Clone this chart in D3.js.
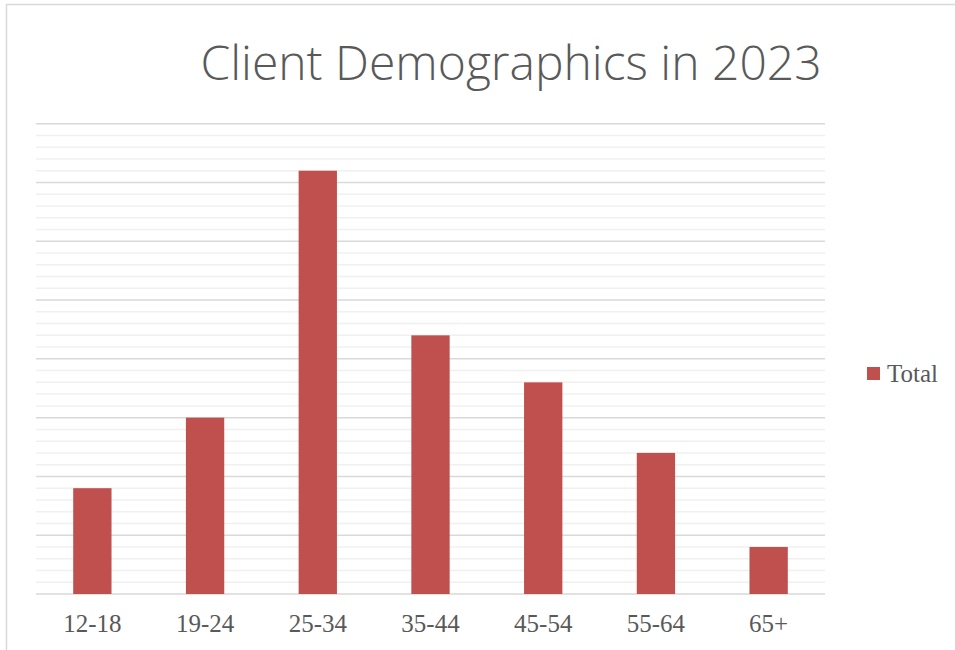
<!DOCTYPE html>
<html>
<head>
<meta charset="utf-8">
<script src="https://cdn.jsdelivr.net/npm/d3@7"></script>
<style>
  body { margin: 0; background: #fff; }
</style>
</head>
<body>
<svg></svg>
<script>
// age groups and client counts
var ageGroups = ["12-18", "19-24", "25-34", "35-44", "45-54", "55-64", "65+"];
var totals = [18, 30, 72, 44, 36, 24, 8];
var seriesName = "Total";
var titleText = "Client Demographics in 2023";

var svgWidth = 955, svgHeight = 650;
var plotLeft = 36, plotRight = 825, plotTop = 123.7, plotBottom = 594;
var barColor = "#c0504d";

var svg = d3.select("svg")
    .attr("width", svgWidth)
    .attr("height", svgHeight)

// chart frame (only top and left edges show in the picture)
svg.append("rect")
    .attr("x", 6.5).attr("y", 4.5)
    .attr("width", svgWidth + 20).attr("height", svgHeight + 20)
    .attr("fill", "none")
    .attr("stroke", "#d9d9d9")
    .attr("stroke-width", 1.5)

var x = d3.scaleBand()
    .domain(ageGroups)
    .range([plotLeft, plotRight])
    .paddingInner(0.66)
    .paddingOuter(0.33)

var y = d3.scaleLinear()
    .domain([0, 80])
    .range([plotBottom, plotTop])

// minor gridlines
svg.append("g")
    .selectAll("line")
    .data(d3.range(0, 81, 2).filter(function(d) { return d % 10 != 0 }))
    .enter()
    .append("line")
    .attr("x1", plotLeft).attr("x2", plotRight)
    .attr("y1", function(d) { return y(d) })
    .attr("y2", function(d) { return y(d) })
    .attr("stroke", "#f0f0f0")
    .attr("stroke-width", 1.5)

// major gridlines
svg.append("g")
    .selectAll("line")
    .data(y.ticks(8))
    .enter()
    .append("line")
    .attr("x1", plotLeft).attr("x2", plotRight)
    .attr("y1", function(d) { return y(d) })
    .attr("y2", function(d) { return y(d) })
    .attr("stroke", "#d9d9d9")
    .attr("stroke-width", 1.5)

// bars
svg.append("g")
    .selectAll("rect")
    .data(ageGroups)
    .enter()
    .append("rect")
    .attr("x", function(d) { return x(d) })
    .attr("y", function(d, i) { return y(totals[i]) })
    .attr("width", x.bandwidth())
    .attr("height", function(d, i) { return y(0) - y(totals[i]) })
    .attr("fill", barColor)

// x axis labels
var xAxis = d3.axisBottom(x).tickSize(0).tickPadding(0)
var gx = svg.append("g")
    .attr("transform", "translate(0," + plotBottom + ")")
    .call(xAxis)
gx.select(".domain").remove()
gx.selectAll("text")
    .attr("dy", 0)
    .attr("y", 38)
    .style("font-family", "'Liberation Serif', serif")
    .style("font-size", "25px")
    .attr("fill", "#595959")

// title
svg.append("text")
    .attr("x", 511)
    .attr("y", 80)
    .attr("text-anchor", "middle")
    .style("font-family", "'Open Sans', sans-serif")
    .style("font-weight", 300)
    .style("font-size", "48px")
    .attr("fill", "#595959")
    .text(titleText)

// legend
var legend = svg.append("g").attr("transform", "translate(867,367)")
legend.append("rect")
    .attr("width", 13).attr("height", 13)
    .attr("fill", barColor)
legend.append("text")
    .attr("x", 20)
    .attr("y", 15)
    .style("font-family", "'Liberation Serif', serif")
    .style("font-size", "25px")
    .attr("fill", "#595959")
    .text(seriesName)
</script>
</body>
</html>
